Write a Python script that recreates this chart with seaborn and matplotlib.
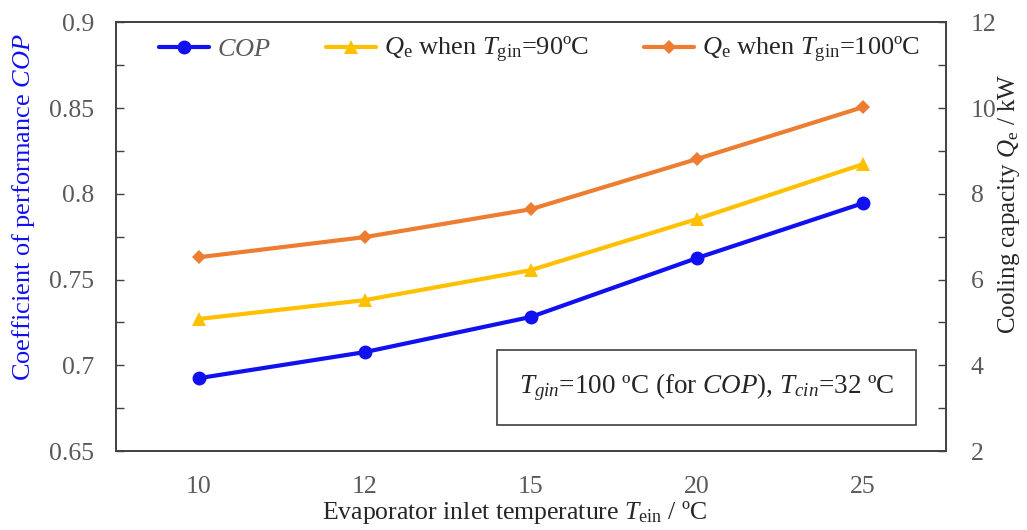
import numpy as np
import pandas as pd
import matplotlib
matplotlib.use("Agg")
import matplotlib.pyplot as plt
import seaborn as sns
from matplotlib.ticker import MultipleLocator, FixedLocator

# values
temps = ['10', '12', '15', '20', '25']
cop = [0.6925, 0.7077, 0.7282, 0.7625, 0.7945]
qe_90 = [5.08, 5.52, 6.22, 7.41, 8.69]
qe_100 = [6.52, 6.99, 7.64, 8.81, 10.02]

sns.set_style("white")
plt.rcParams['font.family'] = ['Liberation Serif', 'DejaVu Serif']
plt.rcParams['mathtext.fontset'] = 'custom'
plt.rcParams['mathtext.rm'] = 'Liberation Serif'
plt.rcParams['mathtext.it'] = 'Liberation Serif:italic'

blue = '#1010F0'
yellow = '#FFC000'
orange = '#ED7D31'
grey = '#595959'
fs = 19

df = pd.DataFrame({'T': temps, 'COP': cop, 'Q90': qe_90, 'Q100': qe_100})

fig, ax = plt.subplots(figsize=(10.27, 5.3), dpi=100)
ax2 = ax.twinx()

sns.lineplot(data=df, x='T', y='COP', ax=ax, color=blue, marker='o', markersize=10,
             linewidth=3, markeredgewidth=0, label='$COP$', legend=False)
sns.lineplot(data=df, x='T', y='Q90', ax=ax2, color=yellow, marker='^', markersize=10,
             linewidth=3, markeredgewidth=0, label='$Q_\\mathrm{e}$ when $T_\\mathrm{gin}$=90ºC', legend=False)
sns.lineplot(data=df, x='T', y='Q100', ax=ax2, color=orange, marker='D', markersize=7,
             linewidth=3, markeredgewidth=0, label='$Q_\\mathrm{e}$ when $T_\\mathrm{gin}$=100ºC', legend=False)

ax.set_xlim(-0.5, 4.5)
ax.set_ylim(0.65, 0.9)
ax2.set_ylim(2, 12)
ax.yaxis.set_major_locator(MultipleLocator(0.05))
ax.yaxis.set_minor_locator(MultipleLocator(0.025))
ax2.yaxis.set_major_locator(MultipleLocator(2))
ax2.yaxis.set_minor_locator(MultipleLocator(1))
ax.xaxis.set_minor_locator(FixedLocator(np.arange(-0.5, 4.6, 0.5)))
ax.yaxis.set_major_formatter(matplotlib.ticker.FuncFormatter(lambda v, p: ('%.2f' % v).rstrip('0').rstrip('.')))

for a in (ax, ax2):
    a.tick_params(which='both', direction='in', labelsize=18.5, labelcolor=grey, color='#404040')
    a.tick_params(which='both', length=6, width=1)
    for s in a.spines.values():
        s.set_color('#404040')
        s.set_linewidth(1.2)
ax.tick_params(axis='x', pad=18)
ax.tick_params(axis='y', pad=16)
ax2.tick_params(axis='y', pad=18)

ax.set_xlabel('Evaporator inlet temperature $T_\\mathrm{ein}$ / ºC', fontsize=18.5)
ax.set_ylabel('Coefficient of performance $COP$', fontsize=fs, color=blue)
ax2.set_ylabel('Cooling capacity $Q_\\mathrm{e}$ / kW', fontsize=18)
ax.xaxis.set_label_coords(0.48, -0.112)
ax.yaxis.set_label_coords(-0.095, 0.569)
ax2.yaxis.set_label_coords(1.061, 0.576)

h1, l1 = ax.get_legend_handles_labels()
h2, l2 = ax2.get_legend_handles_labels()
leg = ax.legend(h1 + h2, l1 + l2, loc='upper center', bbox_to_anchor=(0.51, 1.025), ncol=3,
                frameon=False, fontsize=fs, handlelength=1.9, columnspacing=2.1, handletextpad=0.3)
leg.get_texts()[0].set_color(grey)

ax.text(0.712, 0.149, '$T_{gin}$=100 ºC (for $COP$), $T_{cin}$=32 ºC', transform=ax.transAxes,
        ha='center', va='center', fontsize=19.5,
        bbox=dict(boxstyle='square,pad=0.8', facecolor='white', edgecolor='#404040', linewidth=1.2))

plt.subplots_adjust(left=0.113, right=0.921, top=0.958, bottom=0.149)
plt.savefig('out.png', dpi=100)
